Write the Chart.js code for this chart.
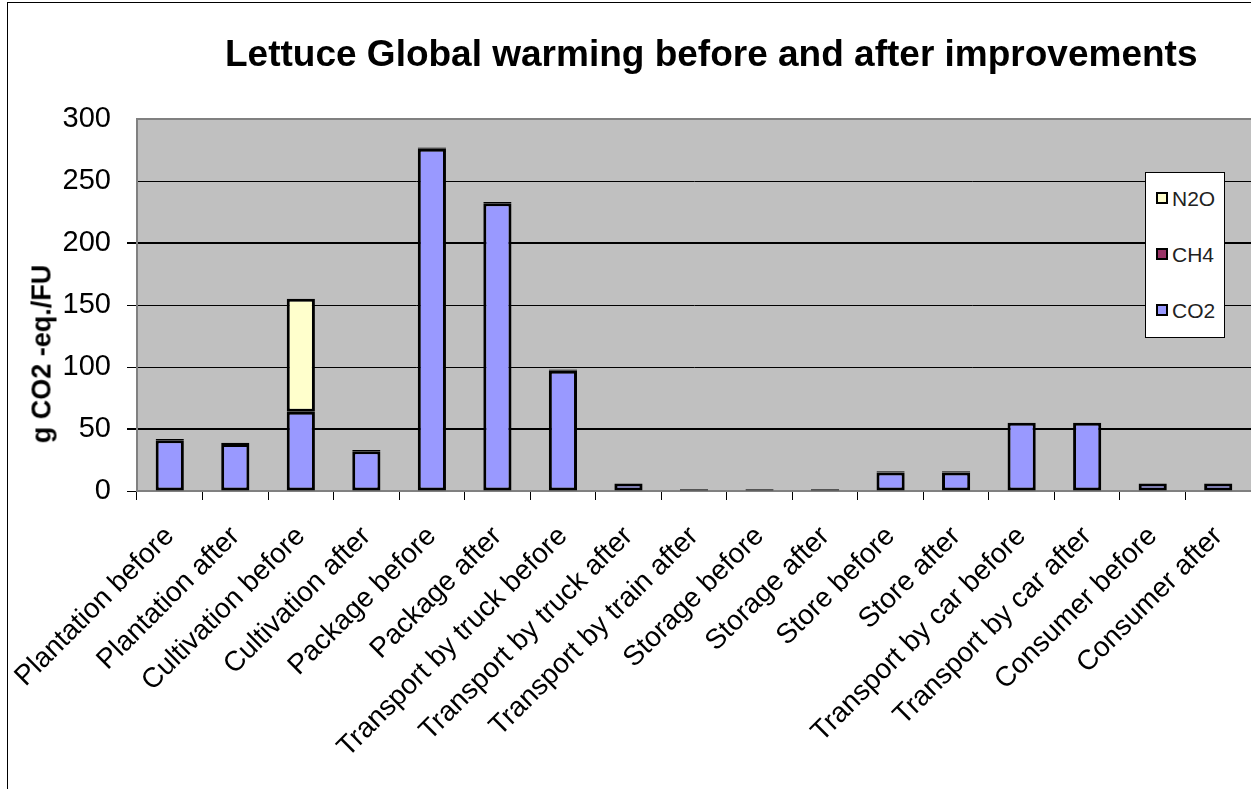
<!DOCTYPE html>
<html>
<head>
<meta charset="utf-8">
<script src="https://cdn.jsdelivr.net/npm/chart.js@4.4.1/dist/chart.umd.min.js"></script>
<style>
  body { margin: 0; background: #fff; }
  #wrap { position: relative; width: 1251px; height: 789px; overflow: hidden; font-family: "Liberation Sans", Arial, sans-serif; }
  #frame { position: absolute; left: 7px; top: 2px; width: 1300px; height: 900px; border: 1px solid #000; }
  #chart { position: absolute; left: 0; top: 0; }
  #title { position: absolute; left: 225px; top: 33px; font-size: 37px; font-weight: bold; white-space: nowrap; }
  #ytitle { position: absolute; left: 42px; top: 354px; font-size: 27px; font-weight: bold; white-space: nowrap;
            transform: translate(-50%, -50%) rotate(-90deg); }
  #legend { position: absolute; left: 1145px; top: 172px; width: 78px; height: 164px; background: #fff; border: 1px solid #000; }
  .item { position: absolute; left: 10px; font-size: 21px; color: #222; line-height: 22px; }
  .item span { display: inline-block; width: 8px; height: 8px; border: 2px solid #000; margin-right: 4px; vertical-align: 2px; }
</style>
</head>
<body>
<div id="wrap">
  <div id="frame"></div>
  <canvas id="chart" width="1251" height="789"></canvas>
  <div id="title">Lettuce Global warming before and after improvements</div>
  <div id="ytitle">g CO2 -eq./FU</div>
  <div id="legend"></div>
</div>
<script>
const categories = [
  "Plantation before", "Plantation after", "Cultivation before", "Cultivation after",
  "Package before", "Package after", "Transport by truck before", "Transport by truck after",
  "Transport by train after", "Storage before", "Storage after", "Store before", "Store after",
  "Transport by car before", "Transport by car after", "Consumer before", "Consumer after"
]
const co2 = [41, 38, 64, 32, 276, 232, 97, 6, 1.5, 1.5, 1.5, 15, 15, 55, 55, 6, 6]
const ch4 = [1, 1, 0, 1, 1, 1, 1, 0, 0, 0, 0, 1, 1, 0, 0, 0, 0]
const n2o = [0, 0, 91, 0, 0, 0, 0, 0, 0, 0, 0, 0, 0, 0, 0, 0, 0]
const yTicks = [0, 50, 100, 150, 200, 250, 300]

const colors = { co2: "#9999FF", ch4: "#993366", n2o: "#FFFFCC" }

// legend, top to bottom like the original
const legendEl = document.getElementById("legend")
;[["N2O", colors.n2o, 15], ["CH4", colors.ch4, 71], ["CO2", colors.co2, 127]].forEach(([name, c, top]) => {
  const d = document.createElement("div")
  d.className = "item"
  d.style.top = top + "px"
  d.innerHTML = '<span style="background:' + c + '"></span>' + name
  legendEl.appendChild(d)
})

const plotBackground = {
  id: "plotBackground",
  beforeDraw(chart) {
    const { ctx, chartArea: a } = chart
    ctx.save()
    ctx.fillStyle = "#C0C0C0"
    ctx.fillRect(a.left, a.top, a.right - a.left, a.bottom - a.top)
    ctx.restore()
  }
}

const barStyle = { borderColor: "#000", borderWidth: 3, borderSkipped: false, barPercentage: 0.43, categoryPercentage: 1 }

new Chart(document.getElementById("chart"), {
  type: "bar",
  data: {
    labels: categories,
    datasets: [
      { label: "CO2", data: co2, backgroundColor: colors.co2, ...barStyle },
      { label: "CH4", data: ch4, backgroundColor: colors.ch4, ...barStyle },
      { label: "N2O", data: n2o, backgroundColor: colors.n2o, ...barStyle },
    ],
  },
  options: {
    responsive: false,
    animation: false,
    layout: { padding: { top: 119, left: 0, right: 0, bottom: 0 } },
    plugins: { legend: { display: false }, tooltip: { enabled: false } },
    scales: {
      x: {
        stacked: true,
        grid: { drawOnChartArea: false, drawTicks: true, tickLength: 9, color: "#000", lineWidth: 1 },
        border: { color: "#808080", width: 2 },
        ticks: {
          autoSkip: false, minRotation: 45, maxRotation: 45, padding: 20, color: "#000",
          font: { family: "Liberation Sans", size: 28 },
        },
        afterFit(scale) {
          scale.height = 298
          scale.paddingLeft = 0
          scale.paddingRight = 0
        },
      },
      y: {
        stacked: true,
        min: 0,
        max: 300,
        afterBuildTicks(scale) { scale.ticks = yTicks.map(v => ({ value: v })) },
        grid: {
          tickLength: 10,
          color: ctx => (ctx.tick.value === 0 || ctx.tick.value === 300) ? "#808080" : "#000",
          lineWidth: ctx => (ctx.tick.value === 50 || ctx.tick.value === 200 || ctx.tick.value === 300) ? 2 : 1,
          tickColor: ctx => ctx.tick.value >= 250 ? "rgba(0,0,0,0)" : "#000",
        },
        border: { color: "#808080", width: 2 },
        ticks: { padding: 16, color: "#000", font: { family: "Liberation Sans", size: 29 } },
        afterFit(scale) { scale.width = 137 },
      },
    },
  },
  plugins: [plotBackground],
})
</script>
</body>
</html>
